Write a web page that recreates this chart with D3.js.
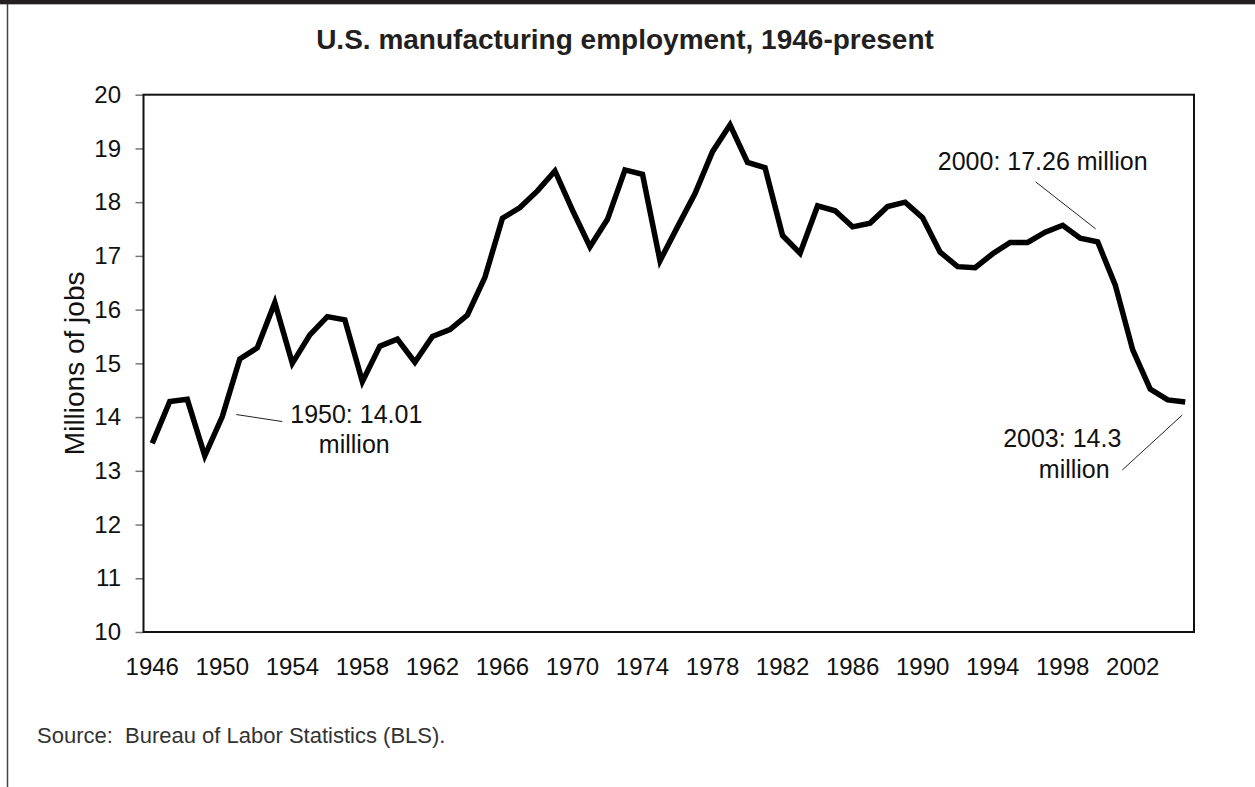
<!DOCTYPE html>
<html>
<head>
<meta charset="utf-8">
<script src="https://cdn.jsdelivr.net/npm/d3@7"></script>
<style>
  body { margin: 0; background: #fff; }
  svg { display: block; font-family: "Liberation Sans", Arial, Helvetica, sans-serif; }
</style>
</head>
<body>
<div id="chart"></div>
<script>
// Data (millions of jobs)
const years = d3.range(1946, 2006);
const jobs = [
  13.51, 14.29, 14.33, 13.28, 14.01, 15.08, 15.29, 16.13, 15.00, 15.53,
  15.87, 15.81, 14.66, 15.32, 15.45, 15.02, 15.50, 15.63, 15.90, 16.60,
  17.70, 17.90, 18.21, 18.58, 17.85, 17.17, 17.68, 18.60, 18.52, 16.91,
  17.54, 18.16, 18.94, 19.44, 18.74, 18.64, 17.38, 17.05, 17.93, 17.84,
  17.54, 17.61, 17.92, 18.00, 17.71, 17.07, 16.80, 16.78, 17.04, 17.25,
  17.25, 17.44, 17.57, 17.33, 17.26, 16.46, 15.25, 14.52, 14.32, 14.28
];
const xTickYears = d3.range(1946, 2003, 4);
const yTicks = d3.range(10, 21, 1);

// annotation texts, each tied to a data year
const noteYears = [1950, 2000, 2005];
const noteLines = [["1950: 14.01", "million"], ["2000: 17.26 million"], ["2003: 14.3", "million"]];

const W = 1255, H = 787;
const plot = { left: 143.5, right: 1194, top: 94.7, bottom: 632 };

const svg = d3.select('#chart').append('svg')
  .attr('width', W)
  .attr('height', H);

// frame: black strip on top and thin rule on the left
svg.append('rect').attr('x', 0).attr('y', 0).attr('width', W).attr('height', 4).attr('fill', '#231f20');
svg.append('line').attr('x1', 0).attr('x2', W).attr('y1', 4.5).attr('y2', 4.5)
  .attr('stroke', '#b5b5b5').attr('stroke-width', 1);
svg.append('line').attr('x1', 7.5).attr('x2', 7.5).attr('y1', 4).attr('y2', H)
  .attr('stroke', '#444').attr('stroke-width', 1.5);

// title
svg.append('text')
  .attr('x', 625).attr('y', 49)
  .attr('text-anchor', 'middle')
  .attr('font-size', 28).attr('font-weight', 'bold')
  .attr('fill', '#231f20')
  .text('U.S. manufacturing employment, 1946-present');

// scales
const xScale = d3.scaleBand()
  .domain(years)
  .range([plot.left, plot.right])
  .padding(0);
const xc = d => xScale(d) + xScale.bandwidth() / 2;

const yScale = d3.scaleLinear()
  .domain([10, 20])
  .range([plot.bottom, plot.top]);

// y axis
const yAxis = svg.append('g')
  .attr('transform', `translate(${plot.left},0)`)
  .call(d3.axisLeft(yScale).tickValues(yTicks).tickSize(8).tickSizeOuter(0).tickPadding(14.5).tickFormat(d3.format('d')));
yAxis.select('.domain').remove();
yAxis.selectAll('line').attr('stroke', '#777').attr('stroke-width', 1.5);
yAxis.selectAll('text').attr('font-size', 24).attr('fill', '#111')
  .attr('font-family', '"Liberation Sans", Arial, sans-serif');

// x axis (labels only)
const xAxis = svg.append('g')
  .attr('transform', `translate(0,${plot.bottom})`)
  .call(d3.axisBottom(xScale).tickValues(xTickYears).tickSize(0).tickPadding(26));
xAxis.select('.domain').remove();
xAxis.selectAll('text').attr('font-size', 24).attr('fill', '#111')
  .attr('font-family', '"Liberation Sans", Arial, sans-serif');

// plot area box
svg.append('rect')
  .attr('x', plot.left).attr('y', plot.top)
  .attr('width', plot.right - plot.left)
  .attr('height', plot.bottom - plot.top)
  .attr('fill', 'none')
  .attr('stroke', '#111')
  .attr('stroke-width', 2);

// y axis title
svg.append('text')
  .attr('transform', `translate(84,${(plot.top + plot.bottom) / 2}) rotate(-90)`)
  .attr('text-anchor', 'middle')
  .attr('font-size', 28)
  .attr('fill', '#111')
  .text('Millions of jobs');

// the line
const line = d3.line()
  .x((d, i) => xc(years[i]))
  .y(d => yScale(d));

svg.append('path')
  .datum(jobs)
  .attr('d', line)
  .attr('fill', 'none')
  .attr('stroke', '#000')
  .attr('stroke-width', 5.5)
  .attr('stroke-linejoin', 'miter');

// annotations: leader + text, offsets in pixels from the data point
const noteOffsets = [
  { l1: [14, -2], l2: [60, 5], t: [[134, 6.5], [132, 36.5]] },
  { l1: [-2, -13], l2: [-62, -60], t: [[-55, -72]] },
  { l1: [-3, 13], l2: [-63, 68], t: [[-123, 45], [-111, 76]] }
];

noteYears.forEach((yr, k) => {
  const px = xc(yr);
  const py = yScale(jobs[years.indexOf(yr)]);
  const o = noteOffsets[k];
  svg.append('line')
    .attr('x1', px + o.l1[0]).attr('y1', py + o.l1[1])
    .attr('x2', px + o.l2[0]).attr('y2', py + o.l2[1])
    .attr('stroke', '#222').attr('stroke-width', 1);
  noteLines[k].forEach((txt, j) => {
    svg.append('text')
      .attr('x', px + o.t[j][0]).attr('y', py + o.t[j][1])
      .attr('text-anchor', 'middle')
      .attr('font-size', 25)
      .attr('fill', '#111')
      .text(txt);
  });
});

// source note
svg.append('text')
  .attr('x', 37).attr('y', 743)
  .attr('font-size', 22)
  .attr('fill', '#333')
  .style('white-space', 'pre')
  .text('Source:  Bureau of Labor Statistics (BLS).');
</script>
</body>
</html>
